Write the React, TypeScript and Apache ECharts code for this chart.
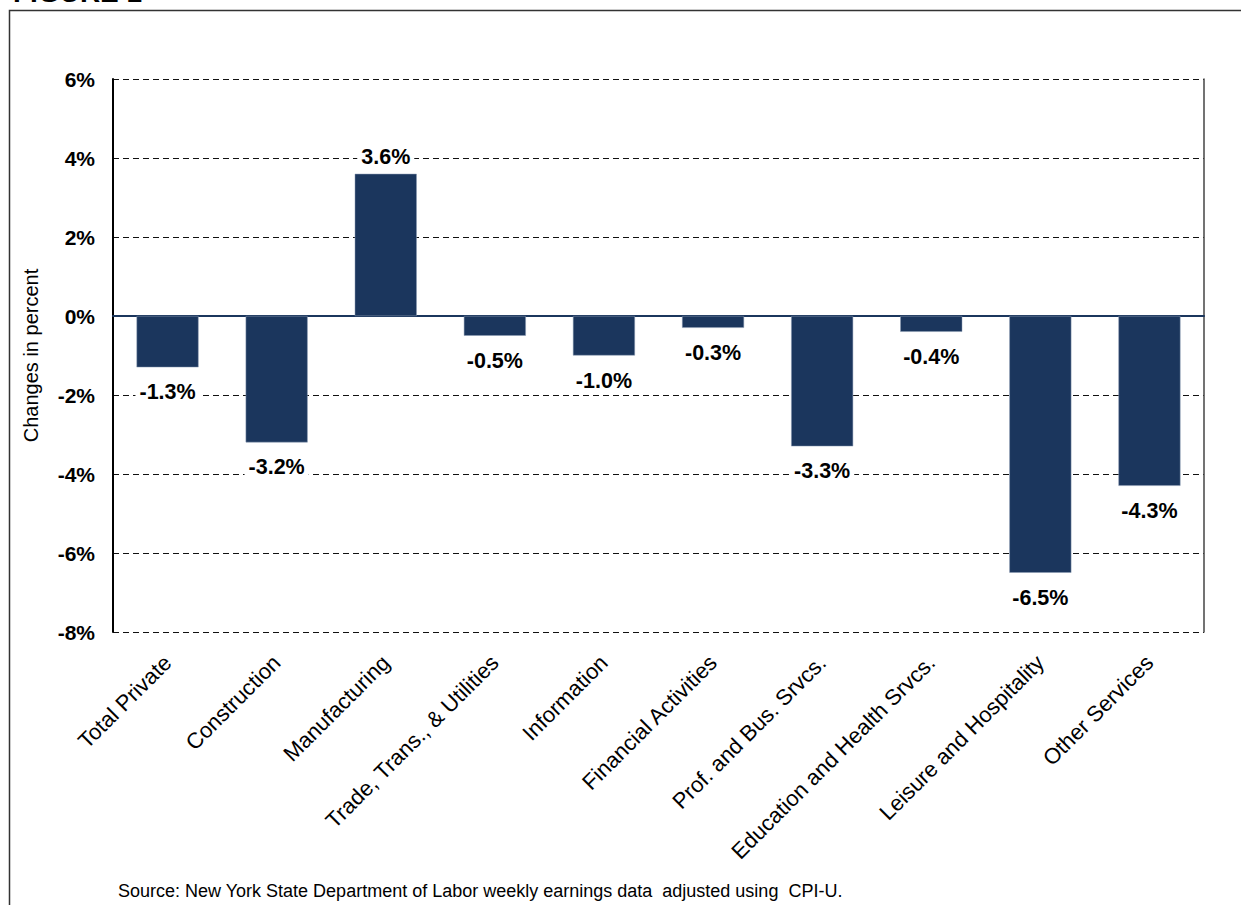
import React, { useEffect, useRef } from "react";
import * as echarts from "echarts";

const categories = [
  "Total Private",
  "Construction",
  "Manufacturing",
  "Trade, Trans., & Utilities",
  "Information",
  "Financial Activities",
  "Prof. and Bus. Srvcs.",
  "Education and Health Srvcs.",
  "Leisure and Hospitality",
  "Other Services",
];
const values = [-1.3, -3.2, 3.6, -0.5, -1.0, -0.3, -3.3, -0.4, -6.5, -4.3];
const yTicks = [-8, -6, -4, -2, 0, 2, 4, 6];
const titleText = "FIGURE 1";
const axisName = "Changes in percent";
const sourceText =
  "Source: New York State Department of Labor weekly earnings data  adjusted using  CPI-U.";

const NAVY = "#1B365D";
const FONT = "Liberation Sans, Arial, sans-serif";

export default function App() {
  const ref = useRef<HTMLDivElement>(null);
  useEffect(() => {
    if (!ref.current) return;
    const chart = echarts.init(ref.current, null, { renderer: "svg" });
    const yMin = yTicks[0];
    const yMax = yTicks[yTicks.length - 1];
    chart.setOption({
      animation: false,
      backgroundColor: "#fff",
      textStyle: { fontFamily: FONT },
      grid: { left: 113, right: 37, top: 79, bottom: 273, containLabel: false },
      xAxis: {
        type: "category",
        data: categories,
        axisLine: { onZero: true, lineStyle: { color: NAVY, width: 2 } },
        axisTick: { show: false },
        axisLabel: {
          interval: 0,
          rotate: 45,
          margin: 27,
          fontSize: 22,
          color: "#000",
          fontFamily: FONT,
        },
      },
      yAxis: [
        {
          type: "value",
          min: yMin,
          max: yMax,
          interval: 2,
          name: axisName,
          nameLocation: "middle",
          nameGap: 72,
          nameTextStyle: { fontSize: 20, color: "#000", fontFamily: FONT },
          axisLine: { show: true, lineStyle: { color: "#000", width: 2 } },
          axisTick: { show: false },
          axisLabel: {
            margin: 18,
            fontSize: 21,
            fontWeight: "bold",
            color: "#000",
            fontFamily: FONT,
            formatter: (v: number) => `${v}%`,
          },
          splitLine: {
            show: true,
            lineStyle: { color: "#111", width: 1.2, type: [6, 4] },
          },
        },
        {
          type: "value",
          min: yMin,
          max: yMax,
          interval: 2,
          position: "right",
          axisLine: { show: true, lineStyle: { color: "#444", width: 1.5 } },
          axisTick: { show: false },
          axisLabel: { show: false },
          splitLine: { show: false },
        },
      ],
      series: [
        {
          type: "bar",
          yAxisIndex: 0,
          barWidth: 62,
          itemStyle: { color: NAVY, borderColor: "#8a9bb3", borderWidth: 0.5 },
          data: values.map((v) => ({
            value: v,
            label: {
              show: true,
              position: v < 0 ? "bottom" : "top",
              distance: v < 0 ? 14 : 6,
            },
          })),
          label: {
            show: true,
            fontSize: 21.5,
            fontWeight: "bold",
            color: "#000",
            fontFamily: FONT,
            backgroundColor: "#fff",
            padding: [0, 4],
            formatter: (p: any) => `${Number(p.value).toFixed(1)}%`,
          },
          z: 3,
        },
      ],
      graphic: [
        {
          type: "rect",
          shape: { x: 9.5, y: 10.5, width: 1260, height: 960 },
          style: { fill: "none", stroke: "#333", lineWidth: 1.5 },
          silent: true,
        },
        {
          type: "text",
          x: 13,
          y: 6,
          style: {
            text: titleText,
            fontSize: 28,
            fontWeight: "bold",
            fontFamily: FONT,
            fill: "#000",
            textVerticalAlign: "bottom",
          },
        },
        {
          type: "text",
          x: 118,
          y: 891,
          style: {
            text: sourceText,
            fontSize: 18,
            fontFamily: FONT,
            fill: "#000",
            textVerticalAlign: "middle",
          },
        },
      ],
    });
    return () => chart.dispose();
  }, []);
  return (
    <div
      ref={ref}
      style={{ position: "fixed", left: 0, top: 0, width: 1241, height: 905 }}
    />
  );
}
